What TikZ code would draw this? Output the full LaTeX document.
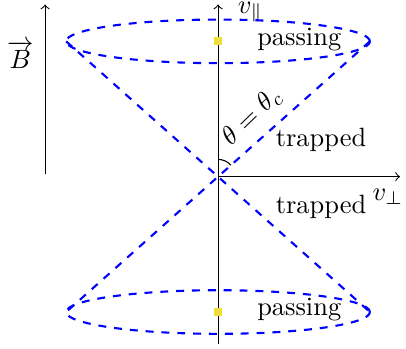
\documentclass[tikz,border=0pt]{standalone}
\usepackage{amsmath}
\usetikzlibrary{positioning,calc}

\definecolor{markyellow}{RGB}{238,222,60}

\begin{document}
\begin{tikzpicture}[x=1cm,y=1cm,every node/.style={font=\normalsize},
  cone/.style={blue,dashed,line width=0.8pt},
  pmark/.style={fill=markyellow,inner sep=0pt,minimum size=0.11cm}]
  \useasboundingbox (-2.90,-2.29) rectangle (2.50,2.35);

  \coordinate (O) at (0,0);
  \coordinate (vbot) at (0,-2.23);
  \coordinate (vtop) at (0,2.29);
  \coordinate (hend) at (2.42,0);
  \coordinate (Bbot) at (-2.30,0.03);
  \coordinate (Btop) at (-2.30,2.29);

  % axes and field
  \draw[->] (vbot) -- (vtop);
  \draw[->] (O) -- (hend);
  \draw[->] (Bbot) -- (Btop);
  \node (vpar) at (0.43,2.19) {$v_{\parallel}$};
  \node (vperp) at (2.26,-0.27) {$v_{\perp}$};
  \node (B) at (-2.63,1.62) {$\overrightarrow{B}$};

  % loss cone
  \draw[cone] (0,1.80) ellipse (2.02 and 0.29);
  \draw[cone] (0,-1.80) ellipse (2.02 and 0.29);
  \coordinate (tl) at (-2.02,1.80);
  \coordinate (tr) at (2.02,1.80);
  \coordinate (bl) at (-2.02,-1.80);
  \coordinate (br) at (2.02,-1.80);
  \draw[cone] (tl) -- (br);
  \draw[cone] (tr) -- (bl);

  \draw (0,0.23) arc (90:41.7:0.23);
  \node[rotate=44] (theta) at (0.45,0.80) {$\theta=\theta_c$};

  \node[pmark] (ptop) at (0,1.80) {};
  \node[pmark] (pbot) at (0,-1.80) {};
  \node (pass1) at (1.08,1.82) {passing};
  \node (pass2) at (1.08,-1.77) {passing};
  \node (trap1) at (1.37,0.49) {trapped};
  \node (trap2) at (1.37,-0.40) {trapped};
\end{tikzpicture}
\end{document}
